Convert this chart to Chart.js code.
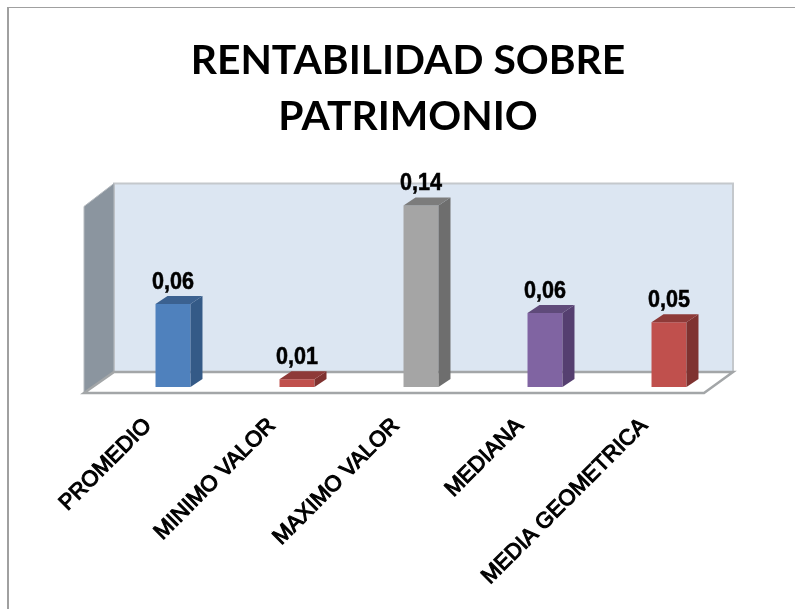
<!DOCTYPE html>
<html><head><meta charset="utf-8">
<script src="https://cdn.jsdelivr.net/npm/chart.js@4"></script>
<style>
html,body{margin:0;padding:0;background:#fff}
#wrap{position:relative;width:795px;height:609px;overflow:hidden}
#frame{position:absolute;left:7px;top:7px;width:800px;height:620px;border-left:2px solid #a0a0a0;border-top:1px solid #a0a0a0}
canvas{position:absolute;left:0;top:0}
</style></head><body>
<div id="wrap"><div id="frame"></div><canvas id="c" width="795" height="609"></canvas></div>
<script>
const titleLines = ["RENTABILIDAD SOBRE", "PATRIMONIO"];
const categories = ["PROMEDIO", "MINIMO VALOR", "MAXIMO VALOR", "MEDIANA", "MEDIA GEOMETRICA"];
const values = [0.064, 0.006, 0.14, 0.057, 0.05];
const frontColors = ["#4f81bd", "#c0504d", "#a5a5a5", "#8064a2", "#c0504d"];
const sideColors = ["#345a87", "#7f3230", "#6e6e6e", "#553f70", "#7f3230"];
const topColors = ["#3b6190", "#8e3a38", "#7c7c7c", "#5f4a7a", "#8e3a38"];

function poly(ctx, pts, fill, stroke, lw) {
  ctx.beginPath();
  pts.forEach((p, i) => i ? ctx.lineTo(p[0], p[1]) : ctx.moveTo(p[0], p[1]));
  ctx.closePath();
  if (fill) { ctx.fillStyle = fill; ctx.fill(); }
  if (stroke) { ctx.strokeStyle = stroke; ctx.lineWidth = lw; ctx.stroke(); }
}

const box3d = {
  id: "box3d",
  beforeDatasetsDraw(chart) {
    const { ctx, chartArea: a, scales: { y } } = chart;
    const y0 = y.getPixelForValue(0);
    const L = a.left + 3, R = a.right + 2, T = a.top;
    const backY = y0 - 15, frontY = y0 + 6, fL = L - 30, fR = R - 29;
    ctx.save();
    poly(ctx, [[L, T], [R, T], [R, backY], [L, backY]], "#dce6f2", "#c4c8cc", 2);
    poly(ctx, [[fL, T + 23], [L, T], [L, backY], [fL, frontY]], "#8b959f", "#b5babf", 1);
    poly(ctx, [[L, backY], [R, backY], [fR, frontY], [fL, frontY]], "#ffffff", "#a3a6a8", 2.5);
    ctx.restore();
  },
  afterDatasetsDraw(chart) {
    const { ctx, scales: { y } } = chart;
    const y0 = y.getPixelForValue(0), dx = 12, dy = 8;
    ctx.save();
    chart.getDatasetMeta(0).data.forEach((bar, i) => {
      const l = bar.x - bar.width / 2, r = bar.x + bar.width / 2, t = bar.y;
      poly(ctx, [[r, t], [r + dx, t - dy], [r + dx, y0 - dy], [r, y0]], sideColors[i]);
      poly(ctx, [[l, t], [l + dx, t - dy], [r + dx, t - dy], [r, t]], topColors[i]);
      const text = values[i].toFixed(2).replace(".", ",");
      ctx.save();
      ctx.translate(bar.x, t - 15);
      ctx.scale(0.98, 1.12);
      ctx.font = "bold 22px 'Liberation Sans'";
      ctx.fillStyle = "#000";
      ctx.strokeStyle = "#000";
      ctx.lineWidth = 0.5;
      ctx.textAlign = "center";
      ctx.textBaseline = "alphabetic";
      ctx.fillText(text, 0, 0);
      ctx.strokeText(text, 0, 0);
      ctx.restore();
    });
    ctx.restore();
  }
};

new Chart(document.getElementById("c"), {
  type: "bar",
  data: {
    labels: categories,
    datasets: [{ data: values, backgroundColor: frontColors, borderWidth: 0,
      barPercentage: 1, categoryPercentage: 0.282 }]
  },
  options: {
    responsive: false,
    animation: false,
    events: [],
    layout: { padding: { left: 51, right: 30, top: 0, bottom: 0 } },
    plugins: {
      legend: { display: false },
      tooltip: { enabled: false },
      title: {
        display: true, text: titleLines, color: "#000",
        font: { family: "Lato", weight: "bold", size: 40.8, lineHeight: 1.39 },
        padding: { top: 32, bottom: 38 }
      }
    },
    scales: {
      x: {
        grid: { display: false }, border: { display: false },
        afterFit(s) { s.height = 222; },
        ticks: {
          autoSkip: false, minRotation: 45, maxRotation: 45, padding: 18, labelOffset: -25,
          color: "#000", textStrokeColor: "#000", textStrokeWidth: 1.1,
          font: { family: "Liberation Sans", size: 22 }
        }
      },
      y: {
        min: 0, max: 0.157, position: "left",
        grid: { display: false }, border: { display: false },
        ticks: { display: false },
        afterFit(s) { s.width = 60; }
      },
      y2: {
        position: "right",
        grid: { display: false }, border: { display: false },
        ticks: { display: false },
        afterFit(s) { s.width = 34; }
      }
    }
  },
  plugins: [box3d]
});
</script>
</body></html>
